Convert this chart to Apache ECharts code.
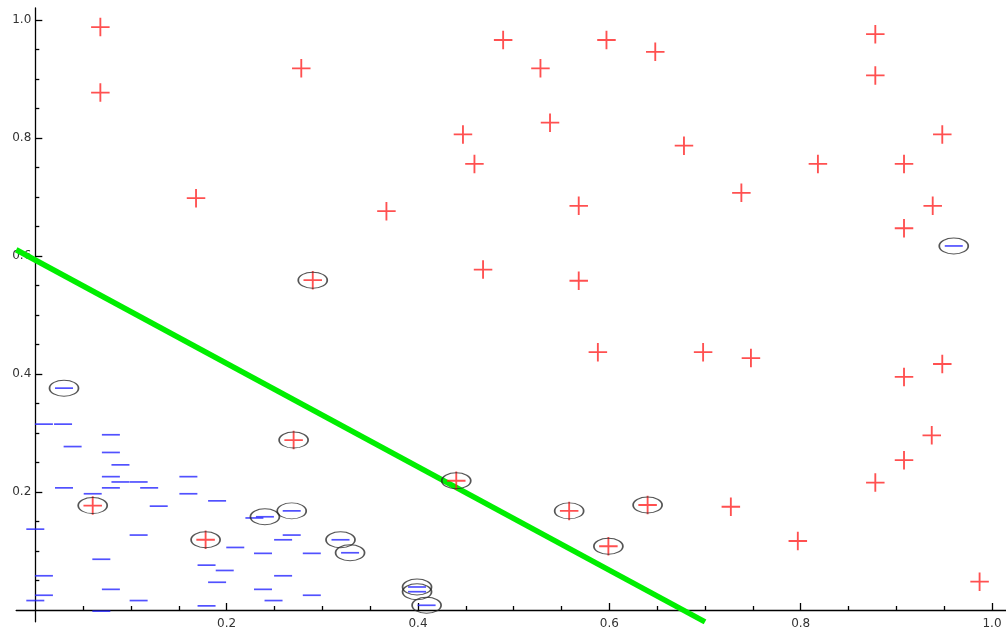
<!DOCTYPE html>
<html>
<head>
<meta charset="utf-8">
<script src="https://cdn.jsdelivr.net/npm/echarts@6/dist/echarts.min.js"></script>
<style>
  html, body { margin: 0; padding: 0; background: #fff; }
  #chart { width: 1006px; height: 632px; }
</style>
</head>
<body>
<div id="chart"></div>
<script>
// class "+" points
const plusPoints = [
  [0.068, 0.988], [0.068, 0.877], [0.168, 0.698], [0.278, 0.918], [0.367, 0.676],
  [0.447, 0.806], [0.459, 0.756], [0.468, 0.577], [0.489, 0.966], [0.528, 0.918],
  [0.538, 0.826], [0.568, 0.685], [0.568, 0.558], [0.588, 0.437], [0.597, 0.966],
  [0.648, 0.946], [0.678, 0.787], [0.698, 0.437], [0.738, 0.707], [0.748, 0.427],
  [0.818, 0.756], [0.878, 0.976], [0.878, 0.906], [0.908, 0.756], [0.908, 0.647],
  [0.938, 0.685], [0.948, 0.806], [0.908, 0.395], [0.948, 0.417], [0.937, 0.296],
  [0.908, 0.254], [0.878, 0.216], [0.727, 0.175], [0.797, 0.117], [0.987, 0.048]
]
// class "-" points
const minusPoints = [
  [0.009, 0.315], [0.029, 0.315], [0.079, 0.297], [0.039, 0.277], [0.079, 0.267],
  [0.089, 0.246], [0.079, 0.226], [0.160, 0.226], [0.089, 0.217], [0.108, 0.217],
  [0.030, 0.207], [0.079, 0.207], [0.119, 0.207], [0.060, 0.197], [0.160, 0.197],
  [0.190, 0.185], [0.129, 0.176], [0.000, 0.137], [0.108, 0.127], [0.209, 0.106],
  [0.069, 0.086], [0.179, 0.076], [0.198, 0.067], [0.009, 0.058], [0.190, 0.047],
  [0.079, 0.035], [0.009, 0.025], [0.000, 0.016], [0.108, 0.016], [0.179, 0.007],
  [0.069, -0.002], [0.229, 0.156], [0.268, 0.127], [0.259, 0.119], [0.238, 0.096],
  [0.289, 0.096], [0.259, 0.058], [0.238, 0.035], [0.289, 0.025], [0.249, 0.016]
]
// circled points (support vectors / errors)
const circledPlus = [
  [0.290, 0.559], [0.270, 0.288], [0.060, 0.177], [0.178, 0.119],
  [0.440, 0.219], [0.558, 0.168], [0.640, 0.178], [0.599, 0.108]
]
const circledMinus = [
  [0.030, 0.376], [0.960, 0.617], [0.240, 0.158], [0.268, 0.168], [0.319, 0.119],
  [0.329, 0.097], [0.399, 0.039], [0.399, 0.031], [0.409, 0.008]
]
// separating line
const boundary = [[-0.02, 0.6105], [0.70, -0.02]]

const majorTicks = [0.2, 0.4, 0.6, 0.8, 1.0]
const minorTicks = [0.05, 0.1, 0.15, 0.25, 0.3, 0.35, 0.45, 0.5, 0.55, 0.65, 0.7, 0.75, 0.85, 0.9, 0.95]

const chart = echarts.init(document.getElementById('chart'))

const axisColor = '#000'
const xMax = 1.0146, yMax = 1.0203
const labelStyle = { color: '#333', fontFamily: 'DejaVu Sans', fontSize: 12 }

// grid 0 : ticks + labels, starts at the origin
function tickAxis(pos, max, ticks, len, withLabels) {
  return {
    type: 'value', gridIndex: 0, position: pos, min: 0, max: max,
    axisLine: { show: false, onZero: false },
    axisTick: { inside: true, length: len, customValues: ticks, lineStyle: { color: axisColor, width: 1.3 } },
    axisLabel: withLabels
      ? Object.assign({ customValues: ticks, margin: pos === 'bottom' ? 8 : 4, formatter: v => v.toFixed(1) }, labelStyle)
      : { show: false },
    splitLine: { show: false }
  }
}
// grid 1 : the data, a bit wider so the axis lines cross at 0
function dataAxis(pos, max) {
  return {
    type: 'value', gridIndex: 1, position: pos, min: -0.02, max: max,
    axisLine: { onZero: true, lineStyle: { color: axisColor, width: 1.3 } },
    axisTick: { show: false },
    axisLabel: { show: false },
    splitLine: { show: false }
  }
}

const option = {
  backgroundColor: '#fff',
  animation: false,
  grid: [
    { left: 35.3, right: 0, top: 8, bottom: 22, outerBoundsMode: 'none', containLabel: false },
    { left: 16.17, right: 0, top: 8, bottom: 10.2, outerBoundsMode: 'none', containLabel: false }
  ],
  xAxis: [
    tickAxis('bottom', xMax, majorTicks, 7, true),
    tickAxis('bottom', xMax, minorTicks, 4, false),
    dataAxis('bottom', xMax)
  ],
  yAxis: [
    tickAxis('left', yMax, majorTicks, 7, true),
    tickAxis('left', yMax, minorTicks, 4, false),
    dataAxis('left', yMax)
  ],
  series: [
    {
      type: 'line', xAxisIndex: 2, yAxisIndex: 2, data: boundary, symbol: 'none',
      lineStyle: { color: '#00ee00', width: 5.5 }, z: 1
    },
    {
      type: 'scatter', xAxisIndex: 2, yAxisIndex: 2, data: minusPoints.concat(circledMinus),
      symbol: 'rect', symbolSize: [18, 1.7],
      itemStyle: { color: '#2525ff' }, z: 2
    },
    {
      type: 'scatter', xAxisIndex: 2, yAxisIndex: 2, data: plusPoints.concat(circledPlus),
      symbol: 'path://M0,9h20v2h-20z M9,0h2v20h-2z', symbolSize: 18.5,
      itemStyle: { color: '#ff2424' }, z: 3
    },
    {
      type: 'scatter', xAxisIndex: 2, yAxisIndex: 2, data: circledPlus.concat(circledMinus),
      symbol: 'path://M0,10A10,10,0,1,1,20,10A10,10,0,1,1,0,10Z', symbolSize: [29, 16],
      itemStyle: { color: 'rgba(0,0,0,0)', borderColor: '#2a2a2a', borderWidth: 1.3 }, z: 4
    }
  ]
}
chart.setOption(option)
</script>
</body>
</html>
